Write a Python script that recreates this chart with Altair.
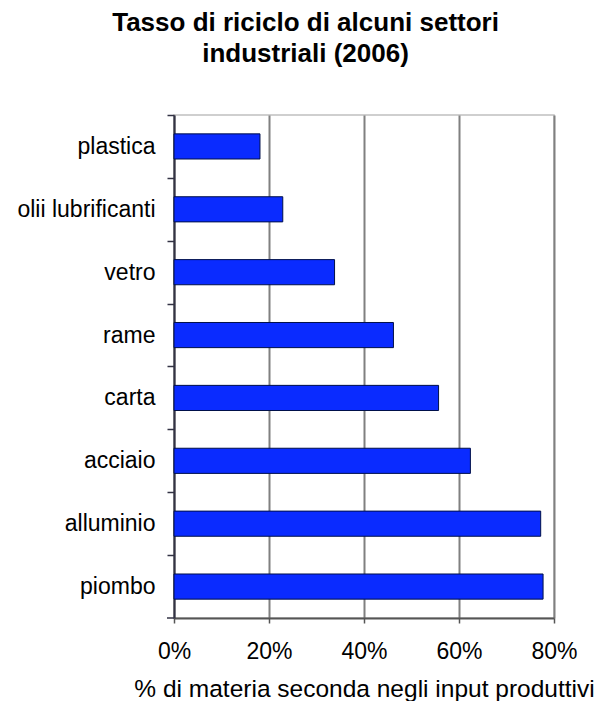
import altair as alt
import pandas as pd

categories = ["plastica", "olii lubrificanti", "vetro", "rame", "carta",
              "acciaio", "alluminio", "piombo"]
values = [0.181, 0.229, 0.338, 0.462, 0.557, 0.624, 0.772, 0.777]
x_ticks = [0, 0.2, 0.4, 0.6, 0.8]

title_lines = ["Tasso di riciclo di alcuni settori", "industriali (2006)"]
x_title = "% di materia seconda negli input produttivi"

df = pd.DataFrame({"settore": categories, "tasso": values})

FONT = "Liberation Sans"
PLOT_W, PLOT_H = 380, 503
HALF_STEP = PLOT_H / 16

bars = alt.Chart(df).mark_bar(
    color="#0A2BFF", stroke="#00104A", strokeWidth=1
).encode(
    x=alt.X("tasso:Q",
            scale=alt.Scale(domain=[0, 0.8], nice=False),
            axis=alt.Axis(values=x_ticks, format=".0%", title=x_title,
                          grid=True, gridColor="#808080", gridWidth=2,
                          domainColor="#555555", domainWidth=2,
                          tickColor="#555555", tickSize=5, tickWidth=1.5,
                          labelFlush=False, labelOverlap=False,
                          labelFont=FONT, labelFontSize=23, labelColor="#000000",
                          labelPadding=17,
                          titleFont=FONT, titleFontSize=24.5, titleFontWeight="normal",
                          titleColor="#000000", titlePadding=14)),
    y=alt.Y("settore:N", sort=categories,
            scale=alt.Scale(paddingInner=0.6, paddingOuter=0.3),
            axis=alt.Axis(title=None, tickOffset=-HALF_STEP, labelOffset=HALF_STEP,
                          domainColor="#333344", domainWidth=2,
                          tickColor="#333344", tickSize=7, tickWidth=1.5,
                          labelFont=FONT, labelFontSize=23, labelColor="#000000",
                          labelPadding=12)),
)

bottom_tick = alt.Chart(pd.DataFrame({"k": [0]})).mark_rule(
    color="#333344", strokeWidth=1.5
).encode(x=alt.value(-7), x2=alt.value(0), y=alt.value(PLOT_H))

chart = alt.layer(bars, bottom_tick).properties(
    width=PLOT_W, height=PLOT_H,
    title=alt.TitleParams(title_lines, font=FONT, fontSize=26, fontWeight="bold",
                          color="#000000", lineHeight=31, anchor="middle",
                          frame="bounds", offset=47),
    padding={"left": 174, "top": 115, "right": 41, "bottom": 83},
    autosize=alt.AutoSizeParams(type="none"),
).configure_view(stroke="#C0C0C0", strokeWidth=1.5)

chart.save("out.html", embed_options={"renderer": "svg", "actions": False})
